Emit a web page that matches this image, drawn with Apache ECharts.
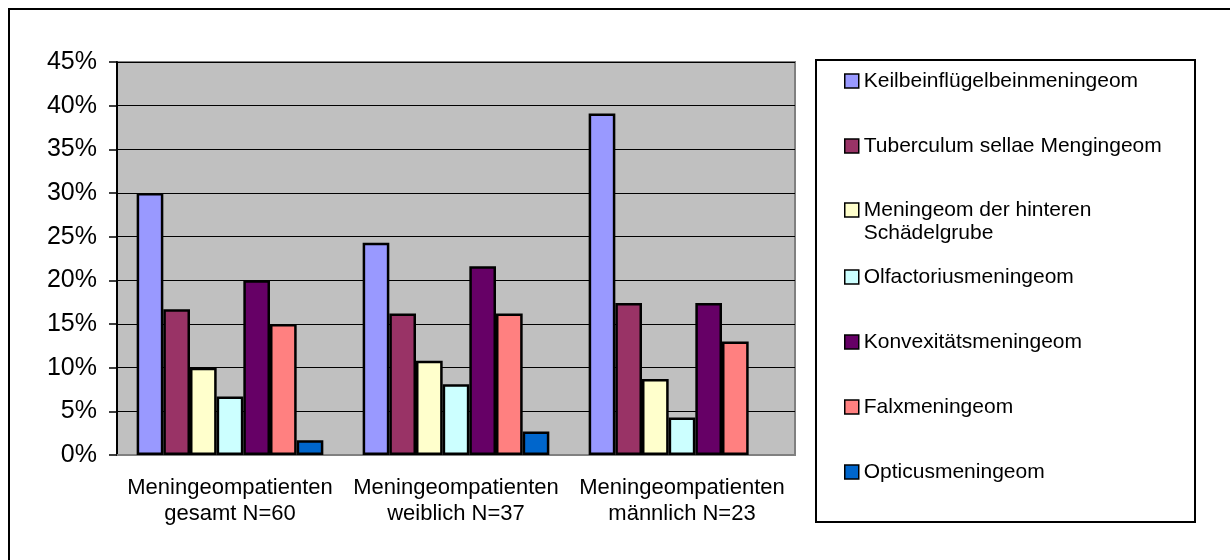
<!DOCTYPE html>
<html>
<head>
<meta charset="utf-8">
<script src="https://cdn.jsdelivr.net/npm/echarts@6/dist/echarts.min.js"></script>
<style>
  html, body { margin: 0; padding: 0; background: #fff; }
  #chart { width: 1230px; height: 560px; }
</style>
</head>
<body>
<div id="chart"></div>
<script>
// Patient groups along the x axis
const categories = [
  'Meningeompatienten\ngesamt N=60',
  'Meningeompatienten\nweiblich N=37',
  'Meningeompatienten\nmännlich N=23'
];

// Share of each meningioma location per group (percent)
const keilbein      = [30.0, 24.3, 39.1];
const tuberculum    = [16.7, 16.2, 17.4];
const hintereGrube  = [10.0, 10.8, 8.7];
const olfactorius   = [6.7, 8.1, 4.3];
const konvexitaet   = [20.0, 21.6, 17.4];
const falx          = [15.0, 16.2, 13.0];
const opticus       = [1.7, 2.7, 0];

const seriesNames = [
  'Keilbeinflügelbeinmeningeom',
  'Tuberculum sellae Mengingeom',
  'Meningeom der hinteren Schädelgrube',
  'Olfactoriusmeningeom',
  'Konvexitätsmeningeom',
  'Falxmeningeom',
  'Opticusmeningeom'
];
const seriesValues = [keilbein, tuberculum, hintereGrube, olfactorius, konvexitaet, falx, opticus];
const seriesColors = ['#9999FF', '#993366', '#FFFFCC', '#CCFFFF', '#660066', '#FF8080', '#0066CC'];

const FONT = '"Liberation Sans", Arial, sans-serif';
const LEGEND_LINE = 23;

const chart = echarts.init(document.getElementById('chart'), null, { renderer: 'canvas' });

// One legend block per entry so the rows keep an even spacing;
// the two-line entry gets a leading blank line so its swatch sits on the first line
const legendCenters = [81, 146, 210, 277, 342, 407, 472];
const legends = seriesNames.map((name, i) => {
  const lines = i === 2 ? 3 : 1;
  return {
    data: [name],
    orient: 'vertical',
    left: 844,
    top: legendCenters[i] - (lines * LEGEND_LINE) / 2,
    itemWidth: 14,
    itemHeight: 14,
    padding: 0,
    selectedMode: false,
    icon: 'rect',
    itemStyle: { borderColor: '#000', borderWidth: 1.5 },
    textStyle: { fontFamily: FONT, fontSize: 21, color: '#000', lineHeight: LEGEND_LINE },
    formatter: i === 2 ? '\nMeningeom der hinteren\nSchädelgrube' : '{name}'
  };
});

chart.setOption({
  animation: false,
  backgroundColor: '#fff',
  graphic: [
    {
      type: 'rect',
      shape: { x: 9, y: 9, width: 1260, height: 600 },
      style: { fill: 'none', stroke: '#000', lineWidth: 2 },
      silent: true
    },
    {
      type: 'rect',
      shape: { x: 816, y: 60, width: 379, height: 462 },
      style: { fill: '#fff', stroke: '#000', lineWidth: 2 },
      silent: true,
      z: -1
    }
  ],
  legend: legends,
  grid: {
    left: 117,
    top: 62,
    width: 678,
    height: 393,
    show: true,
    backgroundColor: '#C0C0C0',
    borderColor: '#808080',
    borderWidth: 2
  },
  xAxis: {
    type: 'category',
    data: categories,
    axisLine: { show: true, lineStyle: { color: '#808080', width: 2 } },
    axisTick: { show: false },
    axisLabel: {
      interval: 0,
      fontFamily: FONT, fontSize: 22, color: '#000', lineHeight: 26, margin: 20
    }
  },
  yAxis: {
    type: 'value',
    min: 0,
    max: 45,
    interval: 5,
    axisLine: { show: true, lineStyle: { color: '#000', width: 2 } },
    axisTick: { show: true, length: 8, lineStyle: { color: '#000', width: 1.5 } },
    splitLine: { show: true, lineStyle: { color: '#000', width: 1 } },
    axisLabel: {
      formatter: '{value}%',
      fontFamily: FONT, fontSize: 25, color: '#000', margin: 20
    }
  },
  series: seriesNames.map((name, i) => ({
    name,
    type: 'bar',
    // empty bars get no outline
    data: seriesValues[i].map(v => v === 0
      ? { value: v, itemStyle: { borderWidth: 0 } }
      : v),
    barGap: '0%',
    barCategoryGap: '17.4%',
    itemStyle: { color: seriesColors[i], borderColor: '#000', borderWidth: 2.5 }
  }))
});
</script>
</body>
</html>
